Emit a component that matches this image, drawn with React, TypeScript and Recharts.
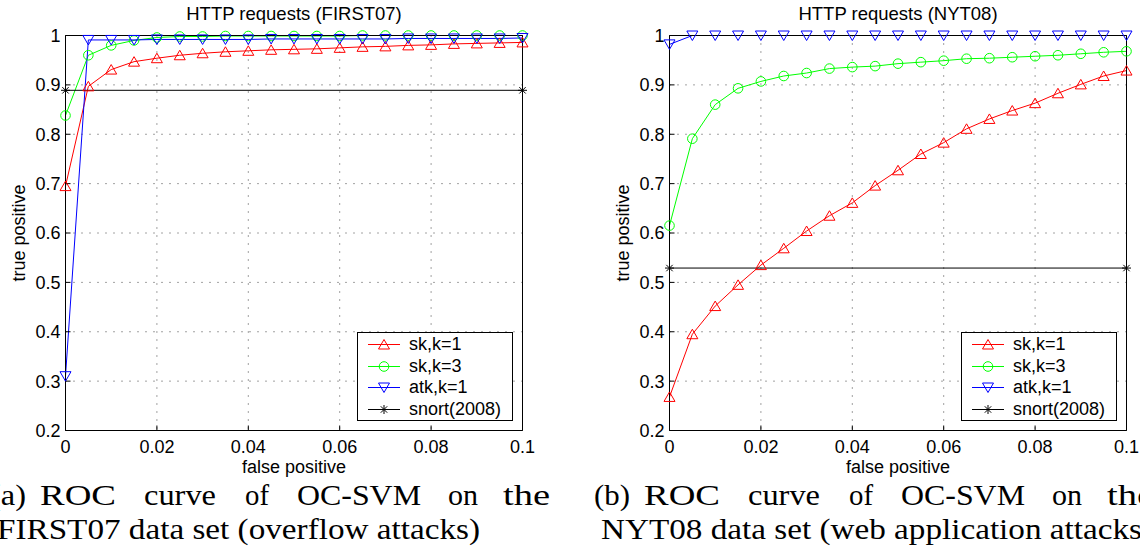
import React from 'react';
import { LineChart, Line, XAxis, YAxis, CartesianGrid, Legend } from 'recharts';

// False-positive rates at which the OC-SVM detectors were evaluated
const fprSteps = [
  0, 0.005, 0.01, 0.015, 0.02, 0.025, 0.03, 0.035, 0.04, 0.045, 0.05,
  0.055, 0.06, 0.065, 0.07, 0.075, 0.08, 0.085, 0.09, 0.095, 0.1,
];
// Snort is a single operating point, drawn as a flat reference line
const snortFpr = [0, 0.1];

// FIRST07 (overflow attacks)
const first07SkK1 = [
  0.695, 0.897, 0.931, 0.947, 0.954, 0.96, 0.964, 0.967, 0.969, 0.971, 0.972,
  0.973, 0.975, 0.977, 0.978, 0.98, 0.981, 0.983, 0.984, 0.985, 0.986,
];
const first07SkK3 = [
  0.838, 0.96, 0.98, 0.99, 0.996, 0.998, 0.998, 0.999, 0.999, 0.999, 0.999,
  0.999, 0.999, 1, 1, 1, 1, 1, 1, 1, 1,
];
const first07AtkK1 = [
  0.31, 0.991, 0.991, 0.991, 0.992, 0.992, 0.992, 0.992, 0.992, 0.993, 0.993,
  0.993, 0.993, 0.993, 0.993, 0.994, 0.994, 0.994, 0.994, 0.994, 0.995,
];
const first07Snort = [0.889, 0.889];

// NYT08 (web application attacks)
const nyt08SkK1 = [
  0.268, 0.395, 0.452, 0.495, 0.535, 0.569, 0.604, 0.635, 0.661, 0.696, 0.727,
  0.76, 0.783, 0.811, 0.831, 0.848, 0.863, 0.883, 0.901, 0.918, 0.929,
];
const nyt08SkK3 = [
  0.615, 0.791, 0.86, 0.893, 0.907, 0.918, 0.924, 0.933, 0.936, 0.938, 0.943,
  0.946, 0.949, 0.953, 0.954, 0.956, 0.958, 0.96, 0.963, 0.966, 0.968,
];
const nyt08AtkK1 = [
  0.982, 1, 1, 1, 1, 1, 1, 1, 1, 1, 1,
  1, 1, 1, 1, 1, 1, 1, 1, 1, 1,
];
const nyt08Snort = [0.529, 0.529];

const xTicks = [0, 0.02, 0.04, 0.06, 0.08, 0.1];
const yTicks = [0.2, 0.3, 0.4, 0.5, 0.6, 0.7, 0.8, 0.9, 1];
const seriesNames = ['sk,k=1', 'sk,k=3', 'atk,k=1', 'snort(2008)'];
const seriesColors = ['#ff0000', '#00ff00', '#0000ff', '#000000'];
type MarkerKind = 'up' | 'circle' | 'down' | 'star';
const seriesMarkers: MarkerKind[] = ['up', 'circle', 'down', 'star'];

const SANS = '"Liberation Sans", Arial, sans-serif';
const SERIF = '"Liberation Serif", "Times New Roman", serif';

const toPoints = (xs: number[], ys: number[]) =>
  xs.map((x, i) => ({ fpr: x, tpr: ys[i] }));

function Marker({ kind, cx, cy, color }: { kind: MarkerKind; cx: number; cy: number; color: string }) {
  if (kind === 'up') {
    return (
      <polygon
        points={`${cx},${cy - 5} ${cx - 5.5},${cy + 4.5} ${cx + 5.5},${cy + 4.5}`}
        fill="none"
        stroke={color}
        strokeWidth={1}
      />
    );
  }
  if (kind === 'down') {
    return (
      <polygon
        points={`${cx},${cy + 5} ${cx - 5.5},${cy - 4.5} ${cx + 5.5},${cy - 4.5}`}
        fill="none"
        stroke={color}
        strokeWidth={1}
      />
    );
  }
  if (kind === 'circle') {
    return <circle cx={cx} cy={cy} r={4.8} fill="none" stroke={color} strokeWidth={1} />;
  }
  const r = 4.5;
  const d = 3.2;
  return (
    <g stroke={color} strokeWidth={1}>
      <line x1={cx} y1={cy - r} x2={cx} y2={cy + r} />
      <line x1={cx - r} y1={cy} x2={cx + r} y2={cy} />
      <line x1={cx - d} y1={cy - d} x2={cx + d} y2={cy + d} />
      <line x1={cx - d} y1={cy + d} x2={cx + d} y2={cy - d} />
    </g>
  );
}

function LegendBox() {
  return (
    <div
      style={{
        width: 154,
        height: 87,
        border: '1px solid #000',
        background: '#fff',
        fontFamily: SANS,
        fontSize: 18,
        color: '#000',
      }}
    >
      {seriesNames.map((name, i) => (
        <div key={name} style={{ display: 'flex', alignItems: 'center', height: 21.75 }}>
          <svg width={51} height={22} style={{ display: 'block', flex: 'none' }}>
            <line x1={10} x2={42} y1={11.5} y2={11.5} stroke={seriesColors[i]} strokeWidth={1} />
            <Marker kind={seriesMarkers[i]} cx={26} cy={11.5} color={seriesColors[i]} />
          </svg>
          <span style={{ lineHeight: '22px', whiteSpace: 'nowrap' }}>{name}</span>
        </div>
      ))}
    </div>
  );
}

const CAPTION_WORD_X = [-10, 40, 144, 245, 297, 448, 503];
const CAPTION_WORD_W = [36, 76, 72, 24, 124, 30, 47];

type PanelProps = {
  left: number;
  title: string;
  tag: string;
  secondLine: string;
  secondLineWidth: number;
  skK1: number[];
  skK3: number[];
  atkK1: number[];
  snort: number[];
};

function Panel({ left, title, tag, secondLine, secondLineWidth, skK1, skK3, atkK1, snort }: PanelProps) {
  const seriesData = [
    toPoints(fprSteps, skK1),
    toPoints(fprSteps, skK3),
    toPoints(fprSteps, atkK1),
    toPoints(snortFpr, snort),
  ];
  const firstLine = [tag, 'ROC', 'curve', 'of', 'OC-SVM', 'on', 'the'];
  const tickStyle = { fontSize: 18, fill: '#000' };
  return (
    <div style={{ position: 'absolute', left, top: 0, width: 570, height: 551 }}>
      <LineChart
        width={570}
        height={551}
        margin={{ top: 30.5, right: 42.5, bottom: 80.5, left: 5.5 }}
        style={{ fontFamily: SANS }}
      >
        <CartesianGrid stroke="#444" strokeDasharray="1 7" strokeWidth={1} />
        <XAxis
          dataKey="fpr"
          type="number"
          domain={[0, 0.1]}
          ticks={xTicks}
          interval={0}
          height={40}
          tickSize={-5}
          tickMargin={15}
          tick={tickStyle}
          axisLine={{ stroke: '#000', strokeWidth: 1 }}
          tickLine={{ stroke: '#000' }}
        />
        <XAxis
          xAxisId="top"
          orientation="top"
          dataKey="fpr"
          type="number"
          domain={[0, 0.1]}
          ticks={xTicks}
          interval={0}
          height={5}
          tickSize={-5}
          tickFormatter={() => ''}
          axisLine={{ stroke: '#000', strokeWidth: 1 }}
          tickLine={{ stroke: '#000' }}
        />
        <YAxis
          type="number"
          domain={[0.2, 1]}
          ticks={yTicks}
          interval={0}
          width={60}
          tickSize={-5}
          tickMargin={10}
          tick={tickStyle}
          axisLine={{ stroke: '#000', strokeWidth: 1 }}
          tickLine={{ stroke: '#000' }}
        />
        <YAxis
          yAxisId="right"
          orientation="right"
          type="number"
          domain={[0.2, 1]}
          ticks={yTicks}
          interval={0}
          width={5}
          tickSize={-5}
          tickFormatter={() => ''}
          axisLine={{ stroke: '#000', strokeWidth: 1 }}
          tickLine={{ stroke: '#000' }}
        />
        {seriesNames.map((name, i) => (
          <Line
            key={name}
            name={name}
            data={seriesData[i]}
            dataKey="tpr"
            type="linear"
            stroke={seriesColors[i]}
            strokeWidth={1}
            isAnimationActive={false}
            activeDot={false}
            dot={(p: any) => (
              <Marker
                key={`${name}-${p.index}`}
                kind={seriesMarkers[i]}
                cx={p.cx}
                cy={p.cy}
                color={seriesColors[i]}
              />
            )}
          />
        ))}
        <Legend
          layout="vertical"
          align="center"
          verticalAlign="middle"
          wrapperStyle={{ left: 357, top: 332, width: 156, height: 89 }}
          content={() => <LegendBox />}
        />
      </LineChart>
      <svg
        width={570}
        height={551}
        style={{ position: 'absolute', left: 0, top: 0, pointerEvents: 'none', overflow: 'visible' }}
      >
        <g fontFamily={SANS} fontSize={18} fill="#000">
          <text x={294} y={20} textAnchor="middle" fontSize={18.5}>{title}</text>
          <text x={294} y={473} textAnchor="middle">false positive</text>
          <text
            x={19}
            y={233}
            textAnchor="middle"
            dominantBaseline="central"
            transform="rotate(-90 19 233)"
          >
            true positive
          </text>
        </g>
        <g fontFamily={SERIF} fontSize={29} fill="#000">
          {firstLine.map((w, i) => (
            <text
              key={w + i}
              x={CAPTION_WORD_X[i]}
              y={505}
              textLength={CAPTION_WORD_W[i]}
              lengthAdjust="spacingAndGlyphs"
            >
              {w}
            </text>
          ))}
          <text x={-3} y={539} textLength={secondLineWidth} lengthAdjust="spacingAndGlyphs">
            {secondLine}
          </text>
        </g>
      </svg>
    </div>
  );
}

export default function App() {
  return (
    <div
      style={{
        position: 'absolute',
        left: 0,
        top: 0,
        width: 1140,
        height: 551,
        overflow: 'hidden',
        background: '#fff',
      }}
    >
      <Panel
        left={0}
        title="HTTP requests (FIRST07)"
        tag="(a)"
        secondLine="FIRST07 data set (overflow attacks)"
        secondLineWidth={483}
        skK1={first07SkK1}
        skK3={first07SkK3}
        atkK1={first07AtkK1}
        snort={first07Snort}
      />
      <Panel
        left={604}
        title="HTTP requests (NYT08)"
        tag="(b)"
        secondLine="NYT08 data set (web application attacks)"
        secondLineWidth={552}
        skK1={nyt08SkK1}
        skK3={nyt08SkK3}
        atkK1={nyt08AtkK1}
        snort={nyt08Snort}
      />
    </div>
  );
}
